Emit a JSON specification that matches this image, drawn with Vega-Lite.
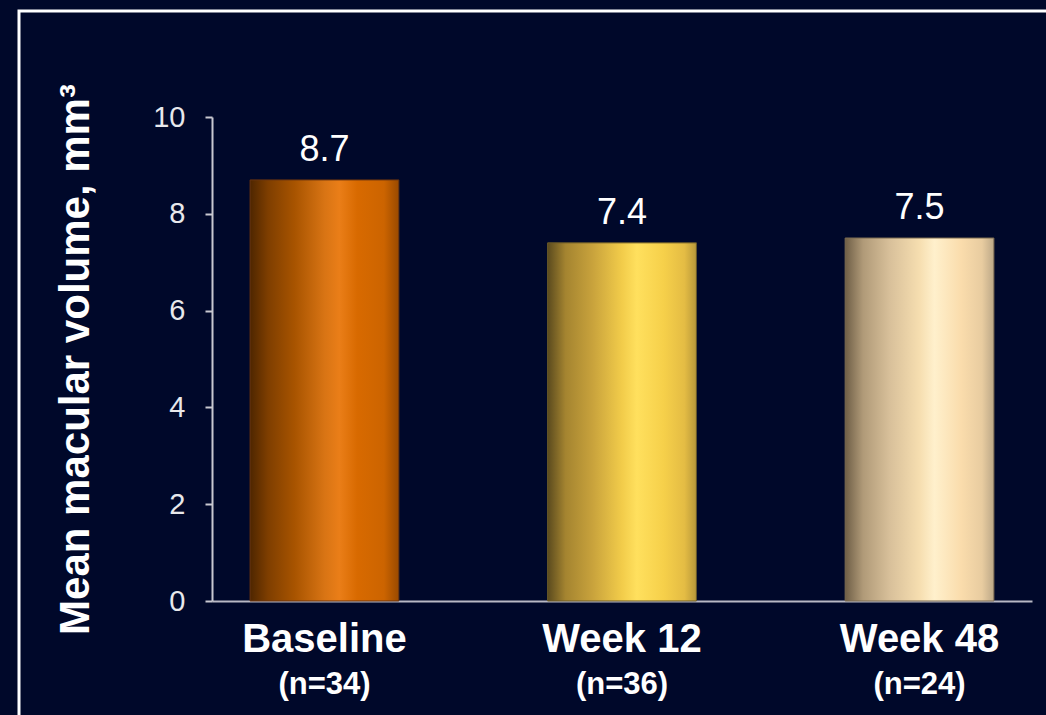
{
  "$schema": "https://vega.github.io/schema/vega-lite/v6.json",
  "width": 1035,
  "height": 715,
  "autosize": {"type": "none"},
  "padding": {"left": 19, "top": 11, "right": -8, "bottom": -11},
  "background": "#00082a",
  "config": {
    "font": "Liberation Sans",
    "view": {"stroke": "#ffffff", "strokeWidth": 3, "fill": null}
  },
  "data": {
    "values": [
      {"period": "Baseline", "n": "(n=34)", "volume": 8.7},
      {"period": "Week 12", "n": "(n=36)", "volume": 7.4},
      {"period": "Week 48", "n": "(n=24)", "volume": 7.5}
    ]
  },
  "encoding": {
    "x": {
      "field": "period",
      "type": "nominal",
      "sort": null,
      "scale": {"range": [193, 1013], "paddingInner": 0.5, "paddingOuter": 0.128},
      "axis": {
        "title": null,
        "orient": "bottom",
        "offset": -125,
        "labelAngle": 0,
        "labelFont": "Liberation Sans",
        "labelFontSize": 40,
        "labelFontWeight": "bold",
        "labelColor": "#ffffff",
        "labelPadding": 18,
        "ticks": false,
        "tickSize": 0,
        "domainColor": "#b8b8c4",
        "domainWidth": 2
      }
    },
    "y": {
      "field": "volume",
      "type": "quantitative",
      "scale": {"domain": [0, 10], "range": [590, 106], "nice": false},
      "axis": {
        "title": "Mean macular volume, mm³",
        "orient": "left",
        "offset": -193,
        "values": [0, 2, 4, 6, 8, 10],
        "grid": false,
        "labelFont": "Liberation Sans",
        "labelFontSize": 29,
        "labelColor": "#e8e8ec",
        "labelPadding": 20,
        "tickSize": 7,
        "tickColor": "#c8c8d0",
        "tickWidth": 2,
        "domainColor": "#c8c8d0",
        "domainWidth": 2,
        "titleFont": "Liberation Sans",
        "titleFontSize": 42,
        "titleFontWeight": "bold",
        "titleColor": "#ffffff",
        "titlePadding": 55
      }
    }
  },
  "layer": [
    {
      "transform": [{"filter": "datum.period === 'Baseline'"}],
      "mark": {
        "type": "bar",
        "stroke": "#6a3410",
        "strokeWidth": 1,
        "fill": {
          "gradient": "linear", "x1": 0, "y1": 0, "x2": 1, "y2": 0,
          "stops": [
            {"offset": 0, "color": "#4e2600"},
            {"offset": 0.12, "color": "#7e3e00"},
            {"offset": 0.3, "color": "#a85400"},
            {"offset": 0.5, "color": "#d87414"},
            {"offset": 0.6, "color": "#ea7e18"},
            {"offset": 0.72, "color": "#d86a00"},
            {"offset": 0.9, "color": "#cc6400"},
            {"offset": 1, "color": "#9a4a00"}
          ]
        }
      }
    },
    {
      "transform": [{"filter": "datum.period === 'Week 12'"}],
      "mark": {
        "type": "bar",
        "stroke": "#6a5a28",
        "strokeWidth": 1,
        "fill": {
          "gradient": "linear", "x1": 0, "y1": 0, "x2": 1, "y2": 0,
          "stops": [
            {"offset": 0, "color": "#5a4a1e"},
            {"offset": 0.12, "color": "#a48430"},
            {"offset": 0.3, "color": "#c8a23c"},
            {"offset": 0.5, "color": "#f2cc4a"},
            {"offset": 0.6, "color": "#ffe05e"},
            {"offset": 0.78, "color": "#f6d04a"},
            {"offset": 0.92, "color": "#e4bc44"},
            {"offset": 1, "color": "#b8983a"}
          ]
        }
      }
    },
    {
      "transform": [{"filter": "datum.period === 'Week 48'"}],
      "mark": {
        "type": "bar",
        "stroke": "#7a6a50",
        "strokeWidth": 1,
        "fill": {
          "gradient": "linear", "x1": 0, "y1": 0, "x2": 1, "y2": 0,
          "stops": [
            {"offset": 0, "color": "#6e5e46"},
            {"offset": 0.12, "color": "#b09a78"},
            {"offset": 0.3, "color": "#d8c09a"},
            {"offset": 0.5, "color": "#f6deb0"},
            {"offset": 0.6, "color": "#fff0cc"},
            {"offset": 0.78, "color": "#fadcac"},
            {"offset": 0.92, "color": "#e8cca0"},
            {"offset": 1, "color": "#bca888"}
          ]
        }
      }
    },
    {
      "mark": {
        "type": "text",
        "baseline": "alphabetic",
        "align": "center",
        "dy": -19,
        "font": "Liberation Sans",
        "fontSize": 36,
        "color": "#ffffff"
      },
      "encoding": {
        "text": {"field": "volume", "type": "quantitative", "format": ".1f"}
      }
    },
    {
      "mark": {
        "type": "text",
        "baseline": "alphabetic",
        "align": "center",
        "dy": 93,
        "font": "Liberation Sans",
        "fontSize": 31,
        "fontWeight": "bold",
        "color": "#ffffff"
      },
      "encoding": {
        "y": {"datum": 0},
        "text": {"field": "n", "type": "nominal"}
      }
    }
  ]
}
